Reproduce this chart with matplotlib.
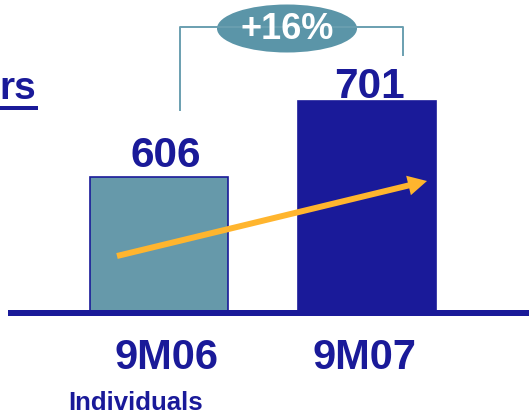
import matplotlib
matplotlib.use("Agg")
import matplotlib.pyplot as plt
from matplotlib import patches, transforms

# Data
periods = ["9M06", "9M07"]
customers = [606, 701]
growth_label = "+16%"
footer_label = "Individuals"
title_tail = "rs"

# Styling
NAVY = "#1a1a99"
TEAL = "#6699aa"
OVAL = "#5b95a8"
BRACKET = "#6a9fb0"
ORANGE = "#ffb52e"
FONT = "Liberation Sans"

W, H, DPI = 529, 416, 100
fig = plt.figure(figsize=(W / DPI, H / DPI), dpi=DPI)
px = transforms.IdentityTransform()


def disp(x, y):
    """Top-left pixel position -> display coordinates."""
    return x, H - y


# Plot area: baseline sits 310 px from the top
base_px = 310
ax = fig.add_axes([0, (H - base_px) / H, 1, base_px / H])
ax.set_xlim(-0.767, 1.780)
ymin = 441
ax.set_ylim(ymin, ymin + base_px / 0.805)
ax.axis("off")

xs = list(range(len(periods)))
bars = ax.bar(xs, customers, width=0.664,
              color=[TEAL, NAVY], edgecolor=[NAVY, NAVY], linewidth=1.2)

# Value labels above bars
value_offsets = [(5, 7.2), (1.8, 1.8)]
for x, v, off in zip(xs, customers, value_offsets):
    ax.annotate(str(v), xy=(x, v), xytext=off, textcoords="offset points",
                ha="center", va="baseline", fontsize=30.5, fontweight="bold",
                color=NAVY, family=FONT)

# Category labels below the baseline
cat_offsets = [(5, -42.5), (-1.5, -42.5)]
for x, lab, off in zip(xs, periods, cat_offsets):
    ax.annotate(lab, xy=(x, 0), xycoords=ax.get_xaxis_transform(),
                xytext=off, textcoords="offset points",
                ha="center", va="baseline", fontsize=30, fontweight="bold",
                color=NAVY, family=FONT)

# Baseline
x0, y0 = disp(8, 313)
x1, _ = disp(529, 313)
fig.add_artist(plt.Line2D([x0, x1], [y0, y0], transform=px,
                          color=NAVY, linewidth=6 * 0.72, solid_capstyle="butt"))

# Growth arrow
ax_, ay_ = disp(117, 256)
bx_, by_ = disp(427, 181)
fig.add_artist(patches.FancyArrow(ax_, ay_, bx_ - ax_, by_ - ay_, width=6,
                                  head_width=20, head_length=19,
                                  length_includes_head=True, transform=px,
                                  color=ORANGE, linewidth=0))

# Bracket joining the two bars
lx, rx, ty = 180, 403, 27
pts = [disp(lx, 110), disp(lx, ty), disp(rx, ty), disp(rx, 55)]
fig.add_artist(plt.Line2D([p[0] for p in pts], [p[1] for p in pts],
                          transform=px, color=BRACKET, linewidth=1.4))

# Growth oval
cx, cy = disp(287, 28.5)
fig.add_artist(patches.Ellipse((cx, cy), 140, 48, transform=px,
                               facecolor=OVAL, edgecolor="none"))
fig.text(cx / W, (cy - 1) / H, growth_label, ha="center", va="center",
         fontsize=26, fontweight="bold", color="white", family=FONT)

# Title fragment with underline
fig.text(-1 / W, (H - 99) / H, title_tail, ha="left", va="baseline",
         fontsize=28, fontweight="bold", color=NAVY, family=FONT)
ux0, uy = disp(0, 108)
ux1, _ = disp(38, 108)
fig.add_artist(plt.Line2D([ux0, ux1], [uy, uy], transform=px,
                          color=NAVY, linewidth=4 * 0.72, solid_capstyle="butt"))

# Footer
fig.text(68 / W, 0.5 / H, footer_label, ha="left", va="bottom",
         fontsize=18.5, fontweight="bold", color=NAVY, family=FONT)

fig.savefig("out.png", dpi=DPI, facecolor="white")
